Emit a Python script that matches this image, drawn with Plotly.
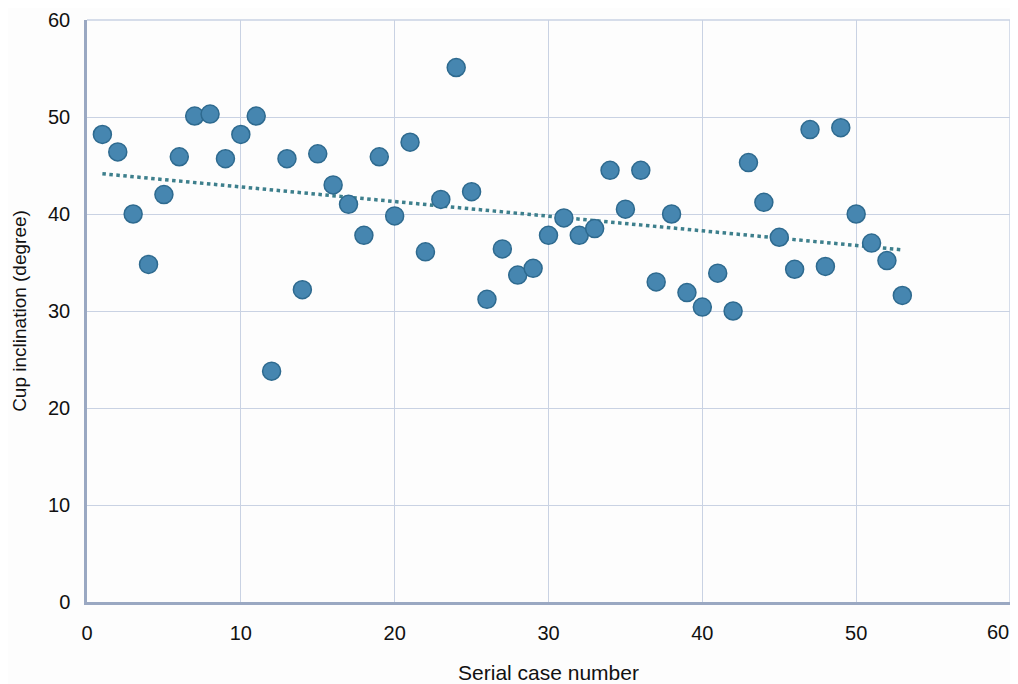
import numpy as np
import plotly.graph_objects as go

case_number = list(range(1, 54))
inclination = [48.2, 46.4, 40.0, 34.8, 42.0, 45.9, 50.1, 50.3, 45.7, 48.2,
               50.1, 23.8, 45.7, 32.2, 46.2, 43.0, 41.0, 37.8, 45.9, 39.8,
               47.4, 36.1, 41.5, 55.1, 42.3, 31.2, 36.4, 33.7, 34.4, 37.8,
               39.6, 37.8, 38.5, 44.5, 40.5, 44.5, 33.0, 40.0, 31.9, 30.4,
               33.9, 30.0, 45.3, 41.2, 37.6, 34.3, 48.7, 34.6, 48.9, 40.0,
               37.0, 35.2, 31.6]
tick_vals = [0, 10, 20, 30, 40, 50, 60]
x_tick_text = ["0", "10", "20", "30", "40", "50", ""]
last_x_label = "60"

slope, intercept = np.polyfit(case_number, inclination, 1)
trend_x = [case_number[0], case_number[-1]]
trend_y = [slope * v + intercept for v in trend_x]

grid_color = "#c9d2e3"
font_family = "Liberation Sans, Arial, sans-serif"

fig = go.Figure()
fig.add_trace(go.Scatter(
    x=trend_x, y=trend_y, mode="lines",
    line=dict(color="#3d7f8c", width=3.5, dash="dot"),
    hoverinfo="skip", showlegend=False))
fig.add_trace(go.Scatter(
    x=case_number, y=inclination, mode="markers",
    marker=dict(size=18, color="#4686b0", line=dict(color="#2e6a8f", width=1.5)),
    showlegend=False))

# light frame on the top and right of the plot area
fig.add_shape(type="line", xref="paper", yref="paper", x0=1, x1=1, y0=0, y1=1,
              line=dict(color=grid_color, width=1.5), layer="below")
fig.add_shape(type="line", xref="paper", yref="paper", x0=0, x1=1, y0=1, y1=1,
              line=dict(color=grid_color, width=1.5), layer="below")

# last x tick label, kept inside the page edge
fig.add_annotation(x=tick_vals[-1], xref="x", y=0, yref="paper",
                   text=last_x_label, showarrow=False,
                   xanchor="right", yanchor="middle", xshift=1, yshift=-30,
                   font=dict(size=20, family=font_family, color="#111111"))

fig.update_layout(
    width=1010, height=676,
    margin=dict(l=79, r=8, t=12, b=82),
    paper_bgcolor="#fdfdfd", plot_bgcolor="#fdfdfd",
    font=dict(family=font_family, color="#111111"),
)
fig.update_xaxes(
    range=[0, 60], tickvals=tick_vals, ticktext=x_tick_text,
    showgrid=True, automargin=False,
    gridcolor=grid_color, gridwidth=1.3, zeroline=False,
    showline=True, linecolor="#9aa8c2", linewidth=2.5, mirror=False,
    tickfont=dict(size=20, family=font_family), ticks="", ticklabelstandoff=11,
    title=dict(text="Serial case number", font=dict(size=21, family=font_family), standoff=23),
)
fig.update_yaxes(
    range=[0, 60], tickvals=tick_vals, showgrid=True, automargin=False,
    gridcolor=grid_color, gridwidth=1.3, zeroline=False,
    showline=True, linecolor="#9aa8c2", linewidth=2.5, mirror=False,
    tickfont=dict(size=20, family=font_family), ticks="", ticklabelstandoff=10,
    title=dict(text="Cup inclination (degree)", font=dict(size=19, family=font_family), standoff=17),
)
fig.write_html("out.html")
